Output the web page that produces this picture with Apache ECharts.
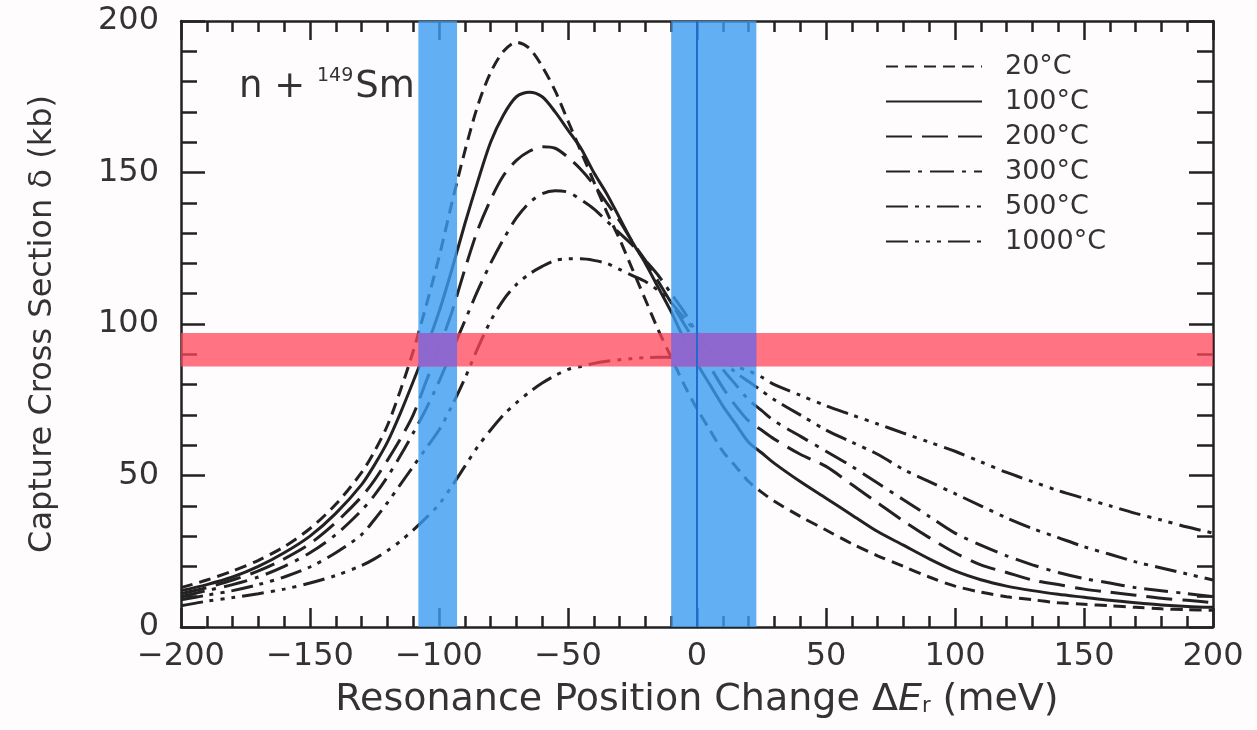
<!DOCTYPE html>
<html>
<head>
	<meta charset="utf-8">
	<title>n + 149Sm capture cross section</title>
	<script src="https://cdn.jsdelivr.net/npm/echarts@6/dist/echarts.min.js"></script>
	<style type="text/css">
		html, body { margin: 0; padding: 0; background-color: #fefcfc; }
		#sigmaBox { width: 1257px; height: 730px; }
	</style>
</head>
<body>
<div id="sigmaBox"></div>

<script>
	// resonance position change (meV)
	var xPos = [-200, -190, -180, -170, -160, -150, -140, -130,
		-125, -120, -115, -110, -105, -100, -95, -90, -85, -80,
		-75, -70, -65, -60, -55, -50, -45, -40, -35, -30,
		-25, -20, -15, -10, -5, 0, 5, 10, 15, 20,
		25, 30,
		40, 50, 60, 70, 80, 90, 100, 110, 120, 130,
		140, 150, 160, 170, 180, 190, 200];

	// capture cross section (kb), one list per temperature
	var sig20 = [13, 15.5, 18.5, 22, 26.5, 32.5, 40.5, 51,
		58, 66.5, 78, 91, 106, 122, 140, 157, 172, 183,
		190, 193, 191, 185, 177, 167, 157, 147, 137, 128,
		118, 108, 98, 89, 80, 72, 65, 58, 53, 48,
		44.5, 41.5,
		36.5, 32, 27.5, 23.5, 20, 16.5, 13.5, 11.5, 10, 9,
		8, 7.5, 7, 6.5, 6, 5.7, 5.5];
	var sig100 = [12, 14, 16.5, 20, 24.5, 30, 37.5, 47,
		53.5, 61, 70.5, 81, 92, 104, 118, 133, 147, 160,
		169, 175, 176.5, 175, 170, 164, 158, 150, 143, 135,
		127, 120, 112, 104, 95, 87, 80, 73, 67, 61,
		57.5, 54,
		48, 42.5, 37, 31.5, 27, 22.5, 18.5, 15.6, 13.5, 12,
		10.8, 9.8, 8.8, 8, 7.3, 6.8, 6.5];
	var sig200 = [11, 13, 15.5, 18.5, 22.5, 27.5, 34.5, 43,
		48.5, 55, 62, 70, 81, 92, 104, 118, 131, 141,
		149, 154, 157, 158.5, 158, 155, 151, 146, 140, 134,
		127, 121, 114, 107, 100, 93, 86, 79, 73, 68,
		65, 62,
		57, 53, 47, 41, 35, 29.5, 24.5, 20.5, 18, 15.5,
		14, 12.5, 11.5, 10.5, 9.5, 8.8, 8];
	var sig300 = [10, 12, 14, 16.5, 20, 24.5, 30.5, 38.5,
		43.5, 49.5, 56.5, 64, 72, 81, 91, 101, 111, 120,
		128, 135, 140, 143, 144, 143.5, 141, 138, 134, 130,
		126, 121, 116, 110, 104, 97, 91, 85, 80, 75,
		71.5, 68,
		63, 58, 53, 47.5, 42, 36.5, 31, 27, 23.5, 20.5,
		18, 16, 14.5, 13, 12, 11, 10];
	var sig500 = [9, 10.5, 12, 14, 16.5, 19.8, 24.5, 30.5,
		35.5, 41, 47, 53, 59, 65, 73, 82, 92, 101,
		108, 113, 116.5, 119, 121, 121.5, 121.5, 121, 120, 118,
		116, 114, 111, 107, 102, 97, 92, 88, 84, 81,
		78, 75,
		70, 65, 61, 57, 52, 48, 44, 40, 36, 32.5,
		29.5, 26.5, 24, 21.5, 19.5, 17.5, 15.5];
	var sig1000 = [7, 8.5, 9.7, 11, 12.5, 14.5, 17, 20.3,
		22.5, 25.2, 28.3, 32, 36, 40.5, 46.5, 53, 59.5, 65,
		70, 74, 77.5, 80.5, 83, 85, 86, 87, 87.7, 88.2,
		88.6, 88.9, 89, 89, 88.8, 88.3, 87.7, 87, 86, 84.5,
		82.5, 80,
		76.5, 73, 70, 67, 64, 61, 58, 54.5, 51, 48,
		45, 42.5, 40, 37.5, 35.3, 33, 31];

	var tempNames = ['20°C', '100°C', '200°C', '300°C', '500°C', '1000°C'];

	// shaded bands
	var blueBands = [[-108, -93], [-10, 23]];
	var redBand = [86, 97];
	var zeroLine = 0;

	var xTicks = { min: -200, max: 200, step: 50 };
	var yTicks = { min: 0, max: 200, step: 50 };

	var fontName = "'DejaVu Sans', sans-serif";
	var ink = '#222';

	function pairs(ys) {
		return xPos.map(function (x, i) { return [x, ys[i]]; });
	}

	function curve(name, ys, dash) {
		return {
			name: name,
			type: 'line',
			data: pairs(ys),
			smooth: 0.3,
			symbol: 'none',
			showSymbol: false,
			z: 2,
			itemStyle: { color: ink },
			lineStyle: { color: ink, width: 3, type: dash }
		};
	}

	function xAxisOf(pos) {
		return {
			type: 'value', position: pos,
			min: xTicks.min, max: xTicks.max, interval: xTicks.step,
			axisLine: { show: true, onZero: false, lineStyle: { color: ink, width: 2.5 } },
			axisTick: { show: true, inside: true, length: 19, lineStyle: { color: ink, width: 2.5 } },
			minorTick: { show: true, splitNumber: 5, length: 11, lineStyle: { color: ink, width: 2.5 } },
			splitLine: { show: false },
			axisLabel: {
				show: pos === 'bottom', margin: 14,
				fontSize: 32, fontFamily: fontName, color: '#333',
				formatter: function (v) { return v < 0 ? '\u2212' + Math.abs(v) : String(v); }
			}
		};
	}

	function yAxisOf(pos) {
		return {
			type: 'value', position: pos,
			min: yTicks.min, max: yTicks.max, interval: yTicks.step,
			axisLine: { show: true, onZero: false, lineStyle: { color: ink, width: 2.5 } },
			axisTick: { show: true, inside: true, length: 24, lineStyle: { color: ink, width: 2.5 } },
			minorTick: { show: true, splitNumber: 5, length: 16, lineStyle: { color: ink, width: 2.5 } },
			splitLine: { show: false },
			axisLabel: { show: pos === 'left', margin: 22, fontSize: 32, fontFamily: fontName, color: '#333' }
		};
	}

	var bottomX = xAxisOf('bottom');
	bottomX.name = 'Resonance Position Change \u0394{it|E}{sub|r} (meV)';
	bottomX.nameLocation = 'middle';
	bottomX.nameGap = 54;
	bottomX.nameTextStyle = {
		fontSize: 38, fontFamily: fontName, color: '#333',
		rich: {
			it: { fontSize: 38, fontFamily: fontName, fontStyle: 'italic', color: '#333' },
			sub: { fontSize: 21, fontFamily: fontName, color: '#333', padding: [14, 0, 0, 0] }
		}
	};

	var leftY = yAxisOf('left');
	leftY.name = 'Capture Cross Section \u03b4 (kb)';
	leftY.nameLocation = 'middle';
	leftY.nameRotate = 90;
	leftY.nameGap = 122;
	leftY.nameTextStyle = { fontSize: 32, fontFamily: fontName, color: '#333' };

	// band areas, overlaps drawn last in purple
	var areas = [];
	blueBands.forEach(function (b) {
		areas.push([{ xAxis: b[0], itemStyle: { color: 'rgba(60,155,240,0.8)' } }, { xAxis: b[1] }]);
	});
	areas.push([{ yAxis: redBand[0], itemStyle: { color: 'rgba(255,70,90,0.75)' } }, { yAxis: redBand[1] }]);
	blueBands.forEach(function (b) {
		areas.push([{ xAxis: b[0], yAxis: redBand[0], itemStyle: { color: 'rgba(135,105,215,0.9)' } },
			{ xAxis: b[1], yAxis: redBand[1] }]);
	});

	var sigmaChart = echarts.init(document.getElementById('sigmaBox'));
	var options = {
		backgroundColor: '#fefcfc',
		animation: false,
		grid: { left: 181, right: 44, top: 21, bottom: 103 },
		title: {
			left: 234, top: 62,
			text: '{a|n + }{s|149}{a|Sm}',
			textStyle: {
				fontWeight: 'normal',
				rich: {
					a: { fontSize: 37, fontFamily: fontName, fontWeight: 'normal', color: '#333', lineHeight: 40 },
					s: { fontSize: 19, fontFamily: fontName, fontWeight: 'normal', color: '#333', verticalAlign: 'top', lineHeight: 40, padding: [0, 2, 16, 0] }
				}
			}
		},
		legend: {
			data: tempNames,
			orient: 'vertical',
			left: 880, top: 48,
			itemWidth: 96, itemHeight: 14, itemGap: 8,
			itemStyle: { opacity: 0 },
			textStyle: { fontSize: 27, fontFamily: fontName, color: '#333', lineHeight: 26, padding: [0, 0, 0, 18] }
		},
		xAxis: [bottomX, xAxisOf('top')],
		yAxis: [leftY, yAxisOf('right')],
		series: [
			curve(tempNames[0], sig20, [12, 7]),
			curve(tempNames[1], sig100, 'solid'),
			curve(tempNames[2], sig200, [26, 10]),
			curve(tempNames[3], sig300, [24, 8, 4, 8]),
			curve(tempNames[4], sig500, [22, 7, 4, 7, 4, 7]),
			curve(tempNames[5], sig1000, [22, 7, 4, 7, 4, 7, 4, 7]),
			{
				name: 'bands',
				type: 'line',
				data: [],
				silent: true,
				markArea: { silent: true, z: 5, data: areas },
				markLine: {
					silent: true, z: 6,
					symbol: ['none', 'none'],
					label: { show: false },
					lineStyle: { color: '#1f6ccc', width: 2, type: 'solid' },
					data: [{ xAxis: zeroLine }]
				}
			}
		]
	};
	sigmaChart.setOption(options);
</script>
</body>
</html>
